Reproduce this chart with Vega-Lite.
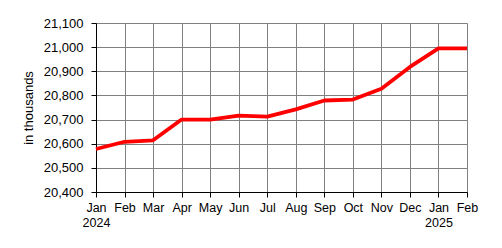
{
  "$schema": "https://vega.github.io/schema/vega-lite/v6.json",
  "width": 371,
  "height": 169,
  "padding": {"left": 22, "top": 17, "right": 20, "bottom": 5},
  "background": "white",
  "data": {
    "values": [
      {"m": "Jan|2024", "v": 20578},
      {"m": "Feb|", "v": 20608},
      {"m": "Mar|", "v": 20614},
      {"m": "Apr|", "v": 20700},
      {"m": "May|", "v": 20700},
      {"m": "Jun|", "v": 20716},
      {"m": "Jul|", "v": 20712},
      {"m": "Aug|", "v": 20742},
      {"m": "Sep|", "v": 20779},
      {"m": "Oct|", "v": 20783},
      {"m": "Nov|", "v": 20828},
      {"m": "Dec|", "v": 20918},
      {"m": "Jan|2025", "v": 20995},
      {"m": "Feb| ", "v": 20995}
    ]
  },
  "mark": {"type": "line", "color": "#ff0000", "strokeWidth": 3.8, "strokeJoin": "round"},
  "encoding": {
    "x": {
      "field": "m",
      "type": "ordinal",
      "sort": null,
      "scale": {"type": "point", "padding": 0},
      "axis": {
        "title": null,
        "labelExpr": "split(datum.value, '|')",
        "labelAngle": 0,
        "labelFont": "Liberation Sans",
        "labelFontSize": 12.5,
        "labelColor": "black",
        "labelPadding": 4,
        "labelLineHeight": 15,
        "tickSize": 5,
        "tickColor": "black",
        "domainColor": "black",
        "grid": true,
        "gridColor": "#808080",
        "gridWidth": 1
      }
    },
    "y": {
      "field": "v",
      "type": "quantitative",
      "scale": {"domain": [20400, 21100], "nice": false, "zero": false},
      "axis": {
        "title": "in thousands",
        "titleFont": "Liberation Sans",
        "titleFontSize": 13,
        "titleFontWeight": "normal",
        "titleColor": "black",
        "titlePadding": 8,
        "values": [20400, 20500, 20600, 20700, 20800, 20900, 21000, 21100],
        "format": ",d",
        "labelFont": "Liberation Sans",
        "labelFontSize": 13,
        "labelColor": "black",
        "labelPadding": 8,
        "tickSize": 5,
        "tickColor": "black",
        "domainColor": "black",
        "gridColor": "#808080",
        "gridWidth": 1
      }
    }
  },
  "config": {"view": {"stroke": null}}
}
